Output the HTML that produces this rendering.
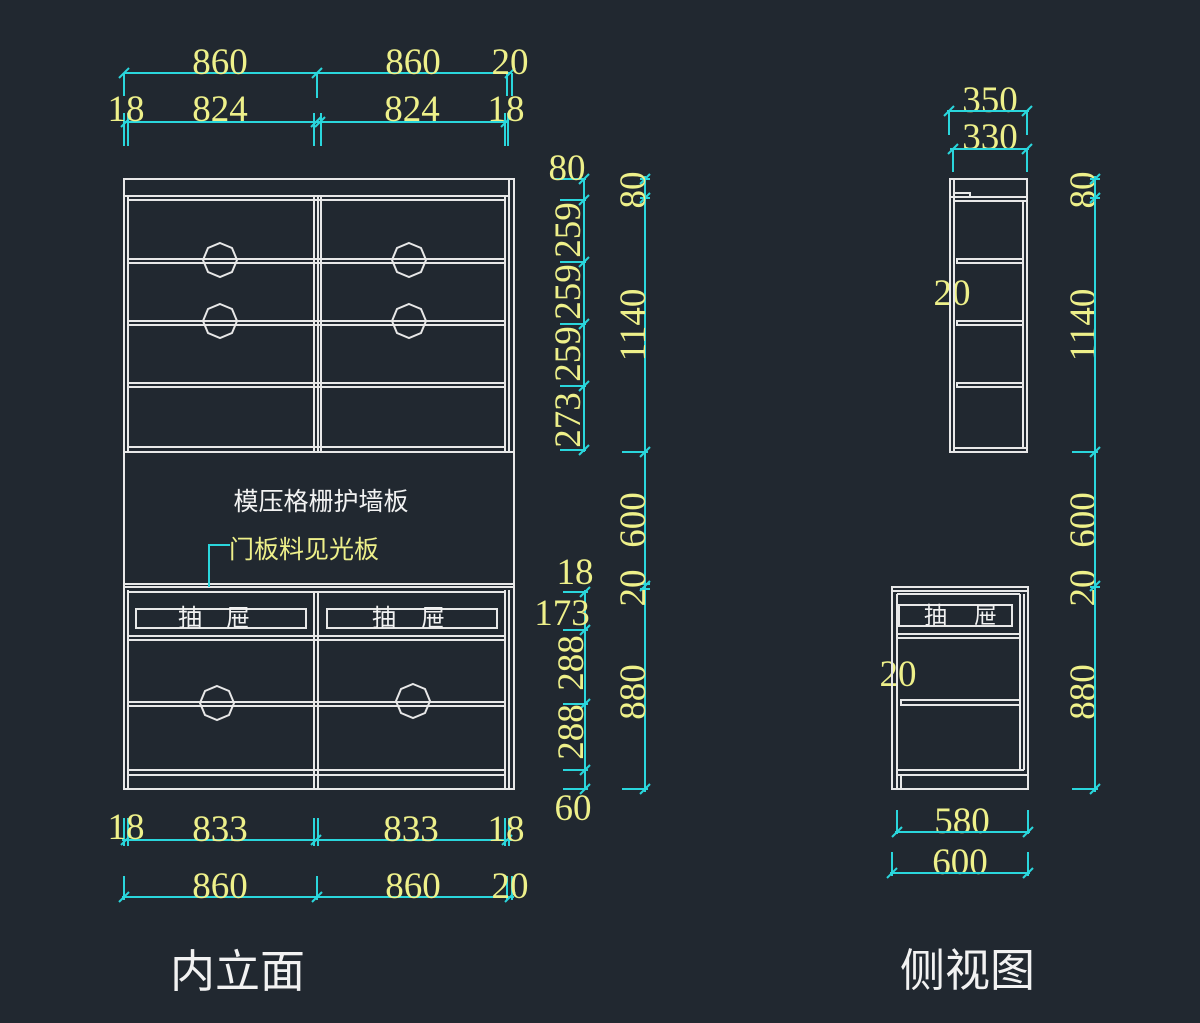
<!DOCTYPE html>
<html><head><meta charset="utf-8"><style>
html,body{margin:0;padding:0;background:#212830;}
svg{display:block}
.w{stroke:#e8e8e8;stroke-width:2;fill:none}
.c{stroke:#2ad6dc;stroke-width:2;fill:none}
.y{fill:#eef08a;font-family:"Liberation Serif",serif;font-size:37px}
.t{fill:#f2f2f2;font-family:"Liberation Sans","Noto Sans CJK SC",sans-serif}
</style></head><body>
<svg width="1200" height="1023" viewBox="0 0 1200 1023" xmlns="http://www.w3.org/2000/svg">
<defs>
<polygon id="oct" class="w" points="0,-17 12,-12 17,0 12,12 0,17 -12,12 -17,0 -12,-12"/>
<line id="tk" class="c" x1="-5" y1="5" x2="5" y2="-5"/>
</defs>
<!-- FRONT upper -->
<g class="w">
<rect x="124" y="179" width="390" height="273"/>
<line x1="509" y1="179" x2="509" y2="452"/>
<line x1="124" y1="196" x2="509" y2="196"/>
<line x1="128" y1="200" x2="505" y2="200"/>
<line x1="128" y1="196" x2="128" y2="452"/>
<line x1="505" y1="196" x2="505" y2="452"/>
<line x1="314" y1="196" x2="314" y2="452"/>
<line x1="318" y1="196" x2="318" y2="452"/>
<line x1="321" y1="196" x2="321" y2="452"/>
<line x1="128" y1="259" x2="505" y2="259"/><line x1="128" y1="263" x2="505" y2="263"/>
<line x1="128" y1="321" x2="505" y2="321"/><line x1="128" y1="325" x2="505" y2="325"/>
<line x1="128" y1="383" x2="505" y2="383"/><line x1="128" y1="387" x2="505" y2="387"/>
<line x1="128" y1="447" x2="505" y2="447"/>
<rect x="124" y="452" width="390" height="135"/>
<line x1="124" y1="584" x2="514" y2="584"/>
<rect x="124" y="587" width="390" height="202"/>
<line x1="128" y1="590" x2="128" y2="789"/>
<line x1="128" y1="592" x2="505" y2="592"/>
<line x1="314" y1="592" x2="314" y2="789"/><line x1="318" y1="592" x2="318" y2="789"/>
<line x1="505" y1="590" x2="505" y2="789"/><line x1="509" y1="590" x2="509" y2="789"/>
<rect x="136" y="609" width="170" height="19"/>
<rect x="327" y="609" width="170" height="19"/>
<line x1="128" y1="636" x2="505" y2="636"/><line x1="128" y1="640" x2="505" y2="640"/>
<line x1="128" y1="702" x2="505" y2="702"/><line x1="128" y1="706" x2="505" y2="706"/>
<line x1="128" y1="770" x2="505" y2="770"/><line x1="128" y1="775" x2="505" y2="775"/>
</g>
<use href="#oct" x="220" y="260"/><use href="#oct" x="409" y="260"/>
<use href="#oct" x="220" y="321"/><use href="#oct" x="409" y="321"/>
<use href="#oct" x="217" y="703"/><use href="#oct" x="413" y="701"/>
<text class="t" x="321" y="510" font-size="25" text-anchor="middle">模压格栅护墙板</text>
<text class="t" x="178" y="626" font-size="24">抽</text><text class="t" x="226" y="626" font-size="24">屉</text>
<text class="t" x="372" y="626" font-size="24">抽</text><text class="t" x="421" y="626" font-size="24">屉</text>
<path class="c" d="M209 587 V545 H230"/>
<text x="229" y="558" font-size="25" fill="#eef08a" font-family="'Liberation Sans','Noto Sans CJK SC',sans-serif">门板料见光板</text>

<g class="c">
<line x1="124" y1="73" x2="512" y2="73"/>
<line x1="124" y1="73" x2="124" y2="96"/><line x1="317" y1="73" x2="317" y2="98"/><line x1="507" y1="73" x2="507" y2="96"/><line x1="512" y1="73" x2="512" y2="96"/>
<line x1="124" y1="122" x2="508" y2="122"/>
<line x1="124" y1="113" x2="124" y2="146"/><line x1="128" y1="113" x2="128" y2="146"/>
<line x1="314" y1="113" x2="314" y2="146"/><line x1="321" y1="113" x2="321" y2="146"/>
<line x1="505" y1="113" x2="505" y2="146"/><line x1="508" y1="113" x2="508" y2="146"/>
<line x1="122" y1="840" x2="512" y2="840"/>
<line x1="124" y1="818" x2="124" y2="846"/><line x1="128" y1="818" x2="128" y2="846"/>
<line x1="314" y1="818" x2="314" y2="846"/><line x1="318" y1="818" x2="318" y2="846"/>
<line x1="505" y1="818" x2="505" y2="846"/><line x1="509" y1="818" x2="509" y2="846"/>
<line x1="122" y1="897" x2="514" y2="897"/>
<line x1="124" y1="876" x2="124" y2="900"/><line x1="317" y1="876" x2="317" y2="900"/>
<line x1="507" y1="876" x2="507" y2="900"/><line x1="512" y1="876" x2="512" y2="900"/>
<line x1="584" y1="179" x2="584" y2="452"/>
<line x1="555" y1="179" x2="586" y2="179"/><line x1="560" y1="200" x2="586" y2="200"/>
<line x1="560" y1="262" x2="586" y2="262"/><line x1="560" y1="324" x2="586" y2="324"/>
<line x1="560" y1="386" x2="586" y2="386"/><line x1="560" y1="450" x2="586" y2="450"/>
<line x1="585" y1="590" x2="585" y2="789"/>
<line x1="563" y1="592" x2="588" y2="592"/><line x1="563" y1="630" x2="588" y2="630"/>
<line x1="563" y1="704" x2="588" y2="704"/><line x1="563" y1="770" x2="588" y2="770"/><line x1="563" y1="789" x2="588" y2="789"/>
<line x1="645" y1="176" x2="645" y2="792"/>
<line x1="640" y1="179" x2="650" y2="179"/><line x1="640" y1="198" x2="650" y2="198"/>
<line x1="622" y1="452" x2="648" y2="452"/><line x1="640" y1="584" x2="650" y2="584"/><line x1="640" y1="589" x2="650" y2="589"/>
<line x1="622" y1="789" x2="648" y2="789"/>
</g>
<g>
<use href="#tk" x="124" y="73"/><use href="#tk" x="317" y="73"/><use href="#tk" x="510" y="73"/>
<use href="#tk" x="126" y="122"/><use href="#tk" x="316" y="122"/><use href="#tk" x="320" y="122"/><use href="#tk" x="506" y="122"/>
<use href="#tk" x="126" y="840"/><use href="#tk" x="316" y="840"/><use href="#tk" x="507" y="840"/>
<use href="#tk" x="124" y="897"/><use href="#tk" x="317" y="897"/><use href="#tk" x="510" y="897"/>
<use href="#tk" x="584" y="179"/><use href="#tk" x="584" y="200"/><use href="#tk" x="584" y="262"/><use href="#tk" x="584" y="324"/><use href="#tk" x="584" y="386"/><use href="#tk" x="584" y="450"/>
<use href="#tk" x="585" y="592"/><use href="#tk" x="585" y="630"/><use href="#tk" x="585" y="704"/><use href="#tk" x="585" y="770"/><use href="#tk" x="585" y="789"/>
<use href="#tk" x="645" y="179"/><use href="#tk" x="645" y="198"/><use href="#tk" x="645" y="452"/><use href="#tk" x="645" y="586"/><use href="#tk" x="645" y="789"/>
<use href="#tk" x="1095" y="179"/><use href="#tk" x="1095" y="198"/><use href="#tk" x="1095" y="452"/><use href="#tk" x="1095" y="586"/><use href="#tk" x="1095" y="789"/>
<use href="#tk" x="949" y="111"/><use href="#tk" x="1027" y="111"/><use href="#tk" x="953" y="149"/><use href="#tk" x="1027" y="149"/>
<use href="#tk" x="897" y="832"/><use href="#tk" x="1028" y="832"/><use href="#tk" x="892" y="873"/><use href="#tk" x="1028" y="873"/>
</g>
<g class="y" text-anchor="middle">
<text x="220" y="74">860</text><text x="413" y="74">860</text><text x="510" y="74">20</text>
<text x="126" y="121">18</text><text x="220" y="121">824</text><text x="412" y="121">824</text><text x="506" y="121">18</text>
<text x="126" y="839">18</text><text x="220" y="841">833</text><text x="411" y="841">833</text><text x="506" y="841">18</text>
<text x="220" y="898">860</text><text x="413" y="898">860</text><text x="510" y="898">20</text>
<text x="567" y="180">80</text>
<text x="575" y="584">18</text><text x="562" y="625">173</text><text x="573" y="820">60</text>
<text transform="translate(580,230) rotate(-90)">259</text>
<text transform="translate(580,292) rotate(-90)">259</text>
<text transform="translate(580,354) rotate(-90)">259</text>
<text transform="translate(580,420) rotate(-90)">273</text>
<text transform="translate(583,663) rotate(-90)">288</text>
<text transform="translate(583,732) rotate(-90)">288</text>
<text transform="translate(645,190) rotate(-90)">80</text>
<text transform="translate(645,325) rotate(-90)">1140</text>
<text transform="translate(645,520) rotate(-90)">600</text>
<text transform="translate(645,588) rotate(-90)">20</text>
<text transform="translate(645,692) rotate(-90)">880</text>
<text x="990" y="112">350</text><text x="990" y="149">330</text>
<text x="952" y="305">20</text><text x="898" y="686">20</text>
<text x="962" y="833">580</text><text x="960" y="874">600</text>
<text transform="translate(1095,190) rotate(-90)">80</text>
<text transform="translate(1095,325) rotate(-90)">1140</text>
<text transform="translate(1095,520) rotate(-90)">600</text>
<text transform="translate(1095,588) rotate(-90)">20</text>
<text transform="translate(1095,692) rotate(-90)">880</text>
</g>
<g class="w">
<rect x="950" y="179" width="77" height="273"/>
<line x1="954" y1="179" x2="954" y2="452"/>
<path d="M954 193 H970 V197"/>
<line x1="950" y1="197" x2="1027" y2="197"/><line x1="954" y1="201" x2="1027" y2="201"/>
<line x1="1023" y1="201" x2="1023" y2="448"/>
<rect x="957" y="259" width="66" height="4"/>
<rect x="957" y="321" width="66" height="4"/>
<rect x="957" y="383" width="66" height="4"/>
<line x1="954" y1="448" x2="1027" y2="448"/>
<rect x="892" y="587" width="136" height="202"/>
<line x1="892" y1="591" x2="1028" y2="591"/>
<line x1="897" y1="594" x2="897" y2="789"/>
<line x1="897" y1="594" x2="1020" y2="594"/>
<line x1="1020" y1="594" x2="1020" y2="770"/><line x1="1024" y1="594" x2="1024" y2="770"/>
<rect x="899" y="605" width="113" height="21"/>
<line x1="897" y1="634" x2="1020" y2="634"/><line x1="897" y1="638" x2="1020" y2="638"/>
<rect x="901" y="700" width="119" height="5"/>
<line x1="897" y1="770" x2="1024" y2="770"/><line x1="897" y1="775" x2="1028" y2="775"/>
<line x1="901" y1="775" x2="901" y2="789"/>
</g>
<text class="t" x="924" y="623" font-size="23">抽</text><text class="t" x="974" y="623" font-size="23">屉</text>
<g class="c">
<line x1="947" y1="111" x2="1029" y2="111"/>
<line x1="949" y1="111" x2="949" y2="135"/><line x1="1027" y1="111" x2="1027" y2="135"/>
<line x1="950" y1="149" x2="1029" y2="149"/>
<line x1="953" y1="149" x2="953" y2="172"/><line x1="1027" y1="149" x2="1027" y2="172"/>
<line x1="1095" y1="176" x2="1095" y2="792"/>
<line x1="1090" y1="179" x2="1100" y2="179"/><line x1="1090" y1="198" x2="1100" y2="198"/>
<line x1="1072" y1="452" x2="1098" y2="452"/><line x1="1090" y1="587" x2="1100" y2="587"/>
<line x1="1072" y1="789" x2="1098" y2="789"/>
<line x1="895" y1="832" x2="1030" y2="832"/>
<line x1="897" y1="810" x2="897" y2="834"/><line x1="1028" y1="810" x2="1028" y2="834"/>
<line x1="890" y1="873" x2="1030" y2="873"/>
<line x1="892" y1="852" x2="892" y2="876"/><line x1="1028" y1="852" x2="1028" y2="876"/>
</g>
<text class="t" x="170" y="987" font-size="45">内立面</text>
<text class="t" x="900" y="986" font-size="45">侧视图</text>
</svg>
</body></html>
